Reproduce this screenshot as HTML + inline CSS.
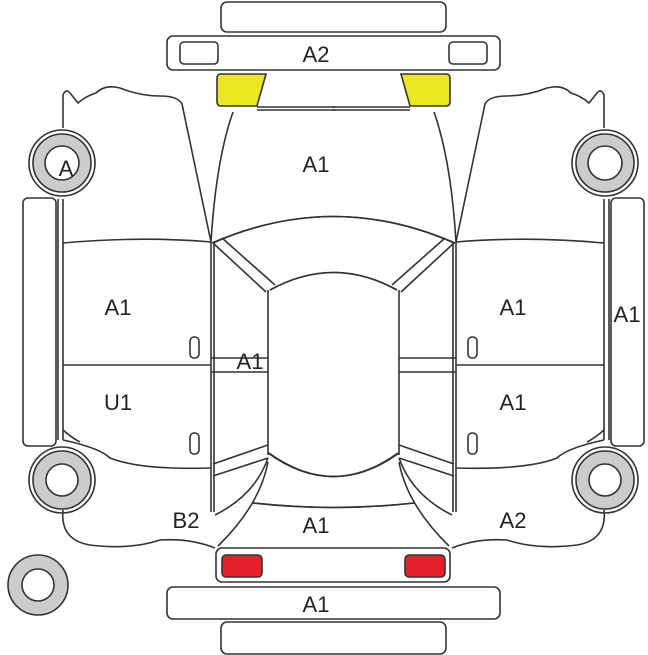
<!DOCTYPE html>
<html><head><meta charset="utf-8"><style>
html,body{margin:0;padding:0;background:#fff;}
svg{display:block;}
text{font-family:"Liberation Sans",sans-serif;font-size:22px;fill:#222;text-anchor:middle;}
</style></head><body>
<svg width="648" height="655" viewBox="0 0 648 655" xmlns="http://www.w3.org/2000/svg">
<defs>
<g id="half" fill="none" stroke="#333" stroke-width="1.6">
  <circle cx="62" cy="163" r="33" fill="#fff"/>
  <circle cx="62" cy="163" r="29" fill="#ccc"/>
  <circle cx="62" cy="163" r="17" fill="#fff"/>
  <circle cx="62" cy="480" r="33" fill="#fff"/>
  <circle cx="62" cy="480" r="29" fill="#ccc"/>
  <circle cx="62" cy="480" r="16" fill="#fff"/>
  <rect x="23" y="198" width="33" height="248" rx="5" fill="#fff"/>
  <path d="M58 199 V440 M63 199 V440"/>
  <path d="M63 128 V95 Q66 88 70 93 L78 103 Q86 96 96 93 Q105 84 120 88 Q140 96 160 96 Q178 96 182 104 L211 242"/>
  <path d="M233 112 Q216 160 211 242"/>
  <path d="M63 243 Q140 236 211 242"/>
  <path d="M63 365 H211"/>
  <path d="M211 242 V512 M214 242 V512"/>
  <rect x="190" y="337" width="9" height="21" rx="4"/>
  <rect x="190" y="433" width="9" height="21" rx="4"/>
  <path d="M213 243 L266 292 M222 238 L275 285"/>
  <path d="M213 243 Q333 190 455 243"/>
  <path d="M270 290 Q333 255 397 290"/>
  <path d="M268 290 V455"/>
  <path d="M211 358 H268 M211 372 H268"/>
  <path d="M213 464 L268 445 M213 476 L268 458"/>
  <path d="M268 453 Q333 500 398 453"/>
  <path d="M268 458 Q255 495 215 515"/>
  <path d="M268 462 Q260 505 218 546"/>
  <path d="M253 503 Q333 512 414 503"/>
  <path d="M63 440 Q100 448 110 458 Q140 470 211 468"/>
  <path d="M63 510 Q60 540 90 545 Q130 550 160 540 Q190 538 215 548"/>
  <path d="M63 430 Q72 438 80 442"/>
  <path d="M257 107 H335 M257 110 H335"/>
  <path d="M217 78 Q217 74 221 74 L266 74 L257 106 L221 106 Q217 106 217 102 Z" fill="#ece624"/>
</g>
</defs>
<use href="#half"/>
<use href="#half" transform="translate(667,0) scale(-1,1)"/>
<g fill="#fff" stroke="#333" stroke-width="1.6">
  <rect x="221" y="2" width="225" height="30" rx="6"/>
  <rect x="167" y="36" width="333" height="34" rx="6"/>
  <rect x="180" y="42" width="38" height="22" rx="4"/>
  <rect x="449" y="42" width="38" height="22" rx="4"/>
  <rect x="216" y="548" width="234" height="34" rx="6"/>
  <rect x="222" y="555" width="40" height="22" rx="4" fill="#e4202a"/>
  <rect x="405" y="555" width="40" height="22" rx="4" fill="#e4202a"/>
  <rect x="167" y="587" width="333" height="32" rx="6"/>
  <rect x="221" y="622" width="225" height="32" rx="6"/>
  <circle cx="38" cy="585" r="30" fill="#ccc"/>
  <circle cx="38" cy="585" r="16"/>
</g>
<text x="316" y="62">A2</text>
<text x="316" y="172">A1</text>
<text x="66" y="176">A</text>
<text x="118" y="315">A1</text>
<text x="250" y="369">A1</text>
<text x="118" y="410">U1</text>
<text x="186" y="528">B2</text>
<text x="316" y="533">A1</text>
<text x="316" y="612">A1</text>
<text x="513" y="315">A1</text>
<text x="627" y="322">A1</text>
<text x="513" y="410">A1</text>
<text x="513" y="528">A2</text>
</svg>
</body></html>
